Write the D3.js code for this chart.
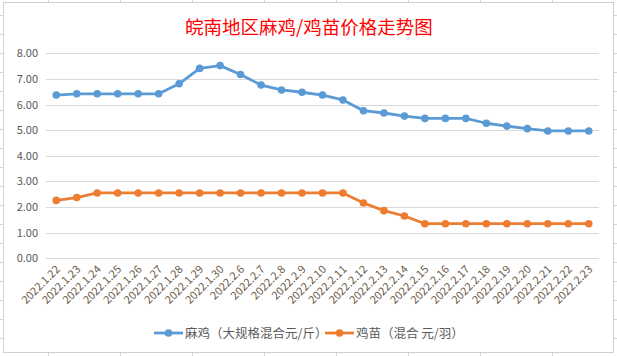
<!DOCTYPE html>
<html><head><meta charset="utf-8">
<script src="https://cdn.jsdelivr.net/npm/d3@7"></script>
<style>html,body{margin:0;padding:0;background:#fff;}svg{display:block;}</style>
</head><body>
<svg id="c" width="617" height="356"></svg>
<script>
const dates = ["2022.1.22","2022.1.23","2022.1.24","2022.1.25","2022.1.26","2022.1.27","2022.1.28","2022.1.29","2022.1.30",
"2022.2.6","2022.2.7","2022.2.8","2022.2.9","2022.2.10","2022.2.11","2022.2.12","2022.2.13","2022.2.14","2022.2.15",
"2022.2.16","2022.2.17","2022.2.18","2022.2.19","2022.2.20","2022.2.21","2022.2.22","2022.2.23"];
const majiPrice = [6.37,6.42,6.42,6.42,6.42,6.42,6.81,7.41,7.52,7.17,6.76,6.57,6.48,6.37,6.18,5.76,5.67,5.55,5.46,5.46,5.46,5.27,5.16,5.06,4.97,4.97,4.97];
const jimiaoPrice = [2.26,2.37,2.55,2.55,2.55,2.55,2.55,2.55,2.55,2.55,2.55,2.55,2.55,2.55,2.55,2.16,1.86,1.65,1.35,1.35,1.35,1.35,1.35,1.35,1.35,1.35,1.35];
const yTicks = [0,1,2,3,4,5,6,7,8];
const seriesNames = ["麻鸡（大规格混合元/斤）","鸡苗（混合 元/羽）"];
const title = "皖南地区麻鸡/鸡苗价格走势图";

const svg = d3.select("#c");
const W = 617, H = 356;
const font = "'Noto Sans CJK SC','Noto Sans',sans-serif";

// spreadsheet background grid
const bg = svg.append("g").attr("stroke","#d5d5de").attr("stroke-width",1);
d3.range(48, W, 72).forEach(x => bg.append("line").attr("x1",x+0.5).attr("x2",x+0.5).attr("y1",0).attr("y2",H));
d3.range(15, H, 19).forEach(y => bg.append("line").attr("x1",0).attr("x2",W).attr("y1",y+0.5).attr("y2",y+0.5));

// chart area
svg.append("rect").attr("x",3.5).attr("y",2.5).attr("width",610).attr("height",350)
  .attr("fill","#fff").attr("stroke","#d0d0d0").attr("stroke-width",1);

const x = d3.scalePoint().domain(dates).range([46,599]).padding(0.5);
const y = d3.scaleLinear().domain([0,8]).range([258.3,53.3]);

// gridlines
svg.append("g").selectAll("line").data(yTicks).join("line")
  .attr("x1",46).attr("x2",599)
  .attr("y1",d=>Math.round(y(d))+0.5).attr("y2",d=>Math.round(y(d))+0.5)
  .attr("stroke","#d9d9d9").attr("stroke-width",1);

// y axis labels
const yAxis = d3.axisLeft(y).tickValues(yTicks).tickFormat(d3.format(".2f")).tickSize(0).tickPadding(0);
const ya = svg.append("g").attr("transform","translate(38,0)").call(yAxis);
ya.select(".domain").remove();
ya.selectAll("text").attr("font-family",font).attr("font-size",11).attr("fill","#595959");

// x axis labels
const xAxis = d3.axisBottom(x).tickSize(0).tickPadding(0);
const xa = svg.append("g").attr("transform","translate(0,262)").call(xAxis);
xa.select(".domain").remove();
xa.selectAll("text").attr("font-family",font).attr("font-size",11).attr("fill","#6b5b4b")
  .attr("text-anchor","end").attr("dy",0).attr("transform","translate(4,8) rotate(-45)");

// title
svg.append("text").attr("x",309).attr("y",34).attr("text-anchor","middle")
  .attr("font-family",font).attr("font-size",18.5).attr("fill","#ff0000").text(title);

const colors = ["#5b9bd5","#ed7d31"];
const series = [majiPrice, jimiaoPrice];
const line = d3.line().x((d,i)=>x(dates[i])).y(d=>y(d));
series.forEach((s,k)=>{
  svg.append("path").datum(s).attr("d",line).attr("fill","none")
    .attr("stroke",colors[k]).attr("stroke-width",2.8).attr("stroke-linejoin","round");
  svg.append("g").selectAll("circle").data(s).join("circle")
    .attr("cx",(d,i)=>x(dates[i])).attr("cy",d=>y(d)).attr("r",3.8).attr("fill",colors[k]);
});

// legend
const legX = [154, 325];
seriesNames.forEach((n,k)=>{
  const g = svg.append("g").attr("transform",`translate(${legX[k]},333)`);
  g.append("line").attr("x1",0).attr("x2",29).attr("y1",0).attr("y2",0).attr("stroke",colors[k]).attr("stroke-width",2.8);
  g.append("circle").attr("cx",14.5).attr("cy",0).attr("r",3.8).attr("fill",colors[k]);
  g.append("text").attr("x",31).attr("y",4.5).attr("font-family",font).attr("font-size",12.5).attr("fill","#595959").text(n);
});
</script>
</body></html>
